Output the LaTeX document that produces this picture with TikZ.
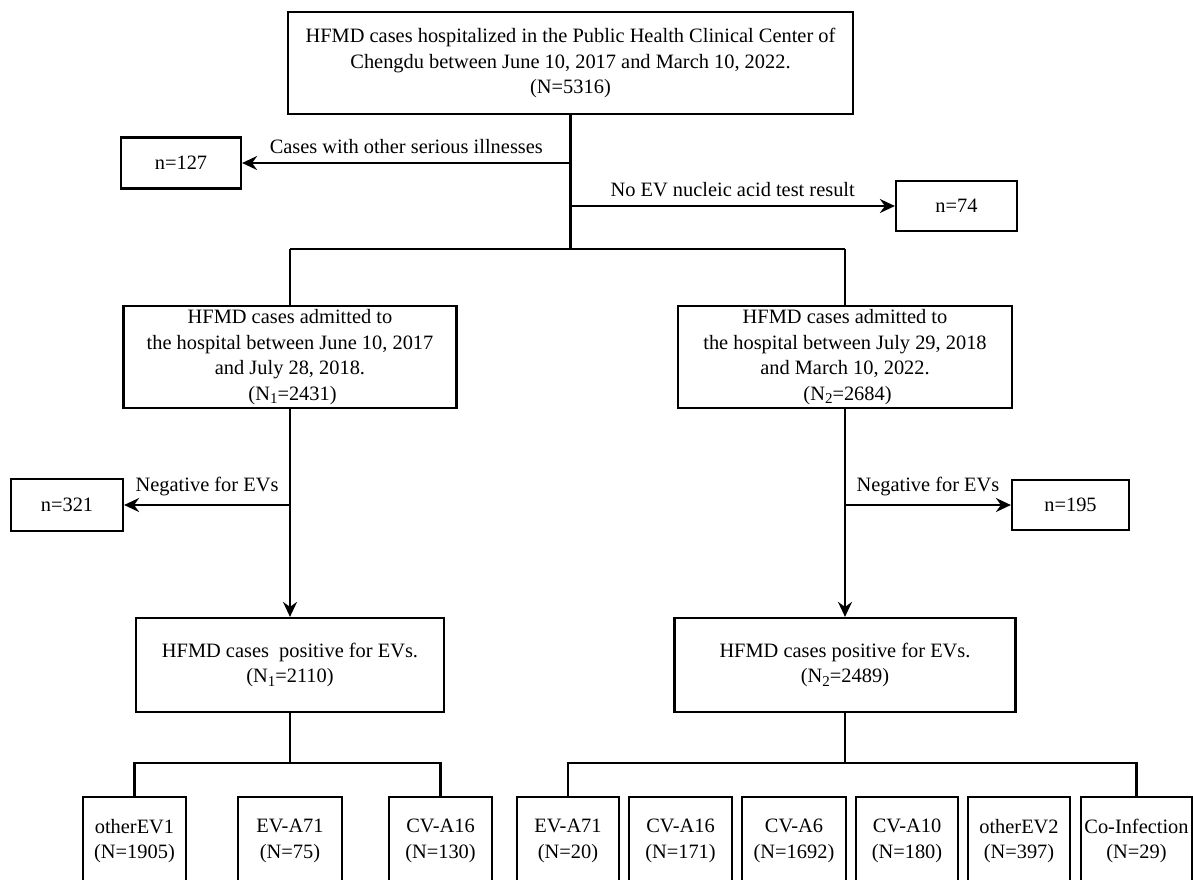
\documentclass[tikz,border=0pt]{standalone}
\usepackage{fontspec}
\setmainfont{Liberation Serif}
\usetikzlibrary{arrows.meta}
\newcommand\figfont{\fontsize{20.4}{25.5}\selectfont}
\newcommand\sbs[1]{\raisebox{-0.35ex}{\fontsize{15}{15}\selectfont #1}}
\begin{document}
\begin{tikzpicture}[x=1pt,y=-1pt,
  box/.style={draw, line width=2.2pt, align=center, inner sep=0pt, font=\figfont},
  conn/.style={line width=2.2pt},
  arr/.style={conn, -{Stealth[length=15pt,width=14pt,inset=5pt]}},
  lab/.style={font=\figfont, inner sep=0pt, above=8pt}]
\clip (0,0) rectangle (1193,879);
\fill[white] (0,0) rectangle (1193,879);

% main box
\node[box, minimum width=565pt, minimum height=102pt] (top) at (570.5,63)
  {HFMD cases hospitalized in the Public Health Clinical Center of\\
   Chengdu between June 10, 2017 and March 10, 2022.\\ (N=5316)};

% exclusions
\node[box, minimum width=120pt, minimum height=51pt] (n127) at (181,163) {n=127};
\node[box, minimum width=121pt, minimum height=50pt] (n74) at (956.5,206) {n=74};

\coordinate (j1) at (570.5,163);
\coordinate (j2) at (570.5,206);
\coordinate (split) at (570.5,249);
\coordinate (sl) at (290,249);
\coordinate (sr) at (845,249);

\draw[conn] (top.south) -- (split);
\draw[arr] (j1) -- node[lab]{Cases with other serious illnesses} (n127);
\draw[arr] (j2) -- node[lab]{No EV nucleic acid test result} (n74);
\draw[conn] (sl) -- (sr);

% period boxes
\node[box, minimum width=333pt, minimum height=102pt] (L) at (290,357)
  {HFMD cases admitted to\\ the hospital between June 10, 2017\\ and July 28, 2018.\\ \ (N\sbs{1}=2431)};
\node[box, minimum width=334pt, minimum height=102pt] (R) at (845,357)
  {HFMD cases admitted to\\ the hospital between July 29, 2018\\ and March 10, 2022.\\ \ (N\sbs{2}=2684)};
\draw[conn] (sl) -- (L.north);
\draw[conn] (sr) -- (R.north);

% negative
\node[box, minimum width=112pt, minimum height=52pt] (n321) at (67,505) {n=321};
\node[box, minimum width=117pt, minimum height=50pt] (n195) at (1070.5,505) {n=195};
\coordinate (lj) at (290,505);
\coordinate (rj) at (845,505);
\draw[arr] (lj) -- node[lab]{Negative for EVs} (n321);
\draw[arr] (rj) -- node[lab]{Negative for EVs} (n195);

% positive boxes
\node[box, minimum width=308pt, minimum height=94pt] (LP) at (290,665)
  {HFMD cases~ positive for EVs.\\ (N\sbs{1}=2110)};
\node[box, minimum width=341pt, minimum height=94pt] (RP) at (845,665)
  {HFMD cases positive for EVs.\\ (N\sbs{2}=2489)};
\draw[arr] (L) -- (LP);
\draw[arr] (R) -- (RP);

% serotype boxes, left
\node[box, minimum width=103pt, minimum height=88pt] (a1) at (134.5,841) {otherEV1\\(N=1905)};
\node[box, minimum width=104pt, minimum height=88pt] (a2) at (290,841) {EV-A71\\(N=75)};
\node[box, minimum width=103pt, minimum height=88pt] (a3) at (440.5,841) {CV-A16\\(N=130)};
\coordinate (lb) at (290,763);
\draw[conn] (LP.south) -- (lb);
\draw[conn] (a1.north) |- (lb) -| (a3.north);

% serotype boxes, right
\node[box, minimum width=102pt, minimum height=88pt] (b1) at (568,841) {EV-A71\\(N=20)};
\node[box, minimum width=103pt, minimum height=88pt] (b2) at (680.5,841) {CV-A16\\(N=171)};
\node[box, minimum width=104pt, minimum height=88pt] (b3) at (794,841) {CV-A6\\(N=1692)};
\node[box, minimum width=102pt, minimum height=88pt] (b4) at (907,841) {CV-A10\\(N=180)};
\node[box, minimum width=102pt, minimum height=88pt] (b5) at (1019,841) {otherEV2\\(N=397)};
\node[box, minimum width=111pt, minimum height=88pt] (b6) at (1136.5,841) {Co-Infection\\(N=29)};
\coordinate (rb) at (845,763);
\draw[conn] (RP.south) -- (rb);
\draw[conn] (b1.north) |- (rb) -| (b6.north);
\end{tikzpicture}
\end{document}
